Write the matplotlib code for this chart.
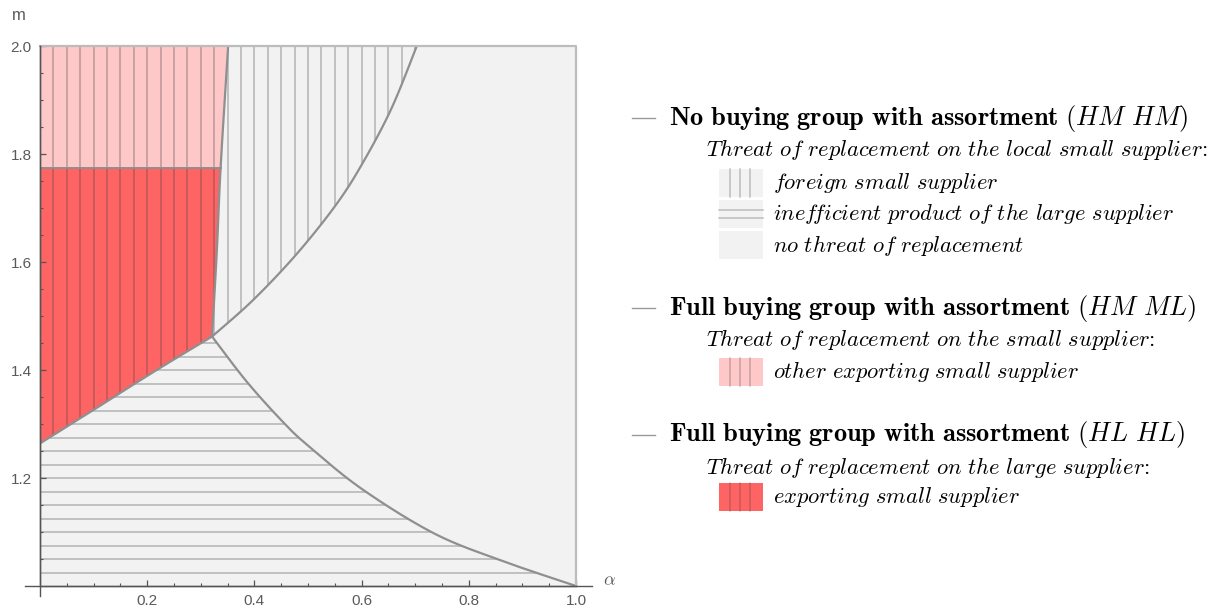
import numpy as np
import matplotlib
matplotlib.use("Agg")
import matplotlib.pyplot as plt
from matplotlib.patches import Polygon, Rectangle
from matplotlib.lines import Line2D

plt.rcParams['mathtext.fontset'] = 'cm'

# boundary curves (alpha, m)
red_bottom_x = [0.0, 0.106, 0.187, 0.249, 0.321]
red_bottom_y = [1.264, 1.330, 1.381, 1.419, 1.462]
split_x = [0.321, 0.330, 0.337, 0.351]          # right edge of the red / pink zone
split_y = [1.462, 1.622, 1.775, 2.0]
upper_x = [0.321, 0.398, 0.479, 0.553, 0.603, 0.656, 0.703]
upper_y = [1.462, 1.530, 1.615, 1.707, 1.785, 1.885, 2.0]
lower_x = [0.321, 0.386, 0.454, 0.50, 0.600, 0.734, 0.858, 1.0]
lower_y = [1.462, 1.378, 1.303, 1.260, 1.180, 1.098, 1.048, 1.0]
m_pink = 1.775                                 # pink above, red below

x_ticks = [0.2, 0.4, 0.6, 0.8, 1.0]
y_ticks = [1.2, 1.4, 1.6, 1.8, 2.0]

GRAY = '#f2f2f2'
PINK = '#ffc8c8'
RED = '#ff6464'
EDGE = '#8f8f8f'


def smooth(xs, ys, n=20):
    '''Catmull-Rom curve through the read points, just for drawing.'''
    p = np.column_stack([xs, ys]).astype(float)
    p = np.vstack([p[0], p, p[-1]])
    out = []
    t = np.linspace(0, 1, n, endpoint=False)[:, None]
    for i in range(1, len(p) - 2):
        p0, p1, p2, p3 = p[i - 1], p[i], p[i + 1], p[i + 2]
        seg = 0.5 * ((2 * p1) + (-p0 + p2) * t +
                     (2 * p0 - 5 * p1 + 4 * p2 - p3) * t ** 2 +
                     (-p0 + 3 * p1 - 3 * p2 + p3) * t ** 3)
        out.append(seg)
    out.append(p[-2][None, :])
    return np.vstack(out)


W, H = 1214, 609
fig = plt.figure(figsize=(W / 100, H / 100), dpi=100)
ax = fig.add_axes([40 / W, 23 / H, 536 / W, 540 / H])
ax.set_xlim(0, 1)
ax.set_ylim(1, 2)
ax.set_facecolor('white')

ax.add_patch(Rectangle((0, 1), 1, 1, facecolor=GRAY, edgecolor='none', zorder=0.5))

red_c = smooth(red_bottom_x, red_bottom_y)
split_c = smooth(split_x, split_y)
upper_c = smooth(upper_x, upper_y)
lower_c = smooth(lower_x, lower_y)

x_mid = np.interp(m_pink, split_y, split_x)
below = split_c[split_c[:, 1] < m_pink]
above = split_c[split_c[:, 1] > m_pink]

red_pts = np.vstack([red_c, below[1:], [[x_mid, m_pink], [0, m_pink]]])
pink_pts = np.vstack([[[0, m_pink], [x_mid, m_pink]], above, [[0, 2.0]]])
vert_pts = np.vstack([split_c, upper_c[::-1]])
horiz_pts = np.vstack([[[0, 1.0], [1.0, 1.0]], lower_c[::-1][1:], red_c[::-1]])

hatch_col = (0.25, 0.25, 0.25, 0.3)
vx = np.arange(0.025, 1.0, 0.025)
hy = np.arange(1.025, 2.0, 0.025)


def region(pts, color, hatch):
    poly = Polygon(pts, closed=True, facecolor=color, edgecolor='none', zorder=1)
    ax.add_patch(poly)
    if hatch == 'v':
        lc = ax.vlines(vx, 1, 2, colors=[hatch_col], linewidth=1.3, zorder=1.2)
    else:
        lc = ax.hlines(hy, 0, 1, colors=[hatch_col], linewidth=1.3, zorder=1.2)
    lc.set_clip_path(poly)


region(red_pts, RED, 'v')
region(pink_pts, PINK, 'v')
region(vert_pts, GRAY, 'v')
region(horiz_pts, GRAY, 'h')

# boundaries
for c in [red_c, split_c, upper_c, lower_c]:
    ax.plot(c[:, 0], c[:, 1], color=EDGE, lw=1.6, zorder=2, solid_capstyle='round')
ax.plot([0, x_mid], [m_pink, m_pink], color=EDGE, lw=1.4, zorder=2)
ax.plot([0, 1, 1], [2, 2, 1], color='#bcbcbc', lw=1.6, zorder=2, clip_on=False)

# axes in the Mathematica style
for s in ['top', 'right']:
    ax.spines[s].set_visible(False)
for s in ['left', 'bottom']:
    ax.spines[s].set_color('#555555')
    ax.spines[s].set_linewidth(1.0)
    ax.spines[s].set_zorder(3)
ax.plot([-0.028, 1.03], [1, 1], color='#555555', lw=1.0, clip_on=False, zorder=3)
ax.plot([0, 0], [0.982, 2.0], color='#555555', lw=1.0, clip_on=False, zorder=3)

ax.set_xticks(x_ticks)
ax.set_yticks(y_ticks)
ax.set_xticklabels(['%.1f' % v for v in x_ticks])
ax.set_yticklabels(['%.1f' % v for v in y_ticks])
ax.set_xticks(np.arange(0.05, 1.0, 0.05), minor=True)
ax.set_yticks(np.arange(1.05, 2.0, 0.05), minor=True)
ax.tick_params(which='both', direction='in', color='#555555', labelcolor='#5a5a5a',
               labelsize=11, top=False, right=False)
ax.tick_params(which='major', length=4, width=0.9, pad=6)
ax.tick_params(which='minor', length=2.5, width=0.8)
for lab in ax.get_xticklabels() + ax.get_yticklabels():
    lab.set_family('Liberation Sans')

fig.text(12 / W, 1 - 15 / H, 'm', color='#5a5a5a', fontsize=12,
         family='Liberation Sans', ha='left', va='center')
fig.text(603 / W, 1 - 580 / H, r'$\alpha$', color='#5a5a5a', fontsize=13,
         ha='left', va='center')


# legend on the right
def fx(px):
    return px / W


def fy(py):
    return 1 - py / H


def swatch(py, color, hatch):
    x0, x1, y0, y1 = 719, 763, py - 14, py + 14
    fig.patches.append(Rectangle((fx(x0), fy(y1)), fx(x1 - x0), (y1 - y0) / H,
                                 transform=fig.transFigure, facecolor=color,
                                 edgecolor='none'))
    if hatch == 'v':
        for xx in [x0 + 11, x0 + 21, x0 + 31]:
            fig.lines.append(Line2D([fx(xx)] * 2, [fy(y0), fy(y1)],
                                    transform=fig.transFigure, color=hatch_col, lw=1.1))
    elif hatch == 'h':
        for yy in [py - 4, py + 4]:
            fig.lines.append(Line2D([fx(x0), fx(x1)], [fy(yy)] * 2,
                                    transform=fig.transFigure, color=hatch_col, lw=1.1))


def heading(py, words, tag):
    fig.lines.append(Line2D([fx(632), fx(655)], [fy(py)] * 2,
                            transform=fig.transFigure, color='#999999', lw=1.0))
    fig.text(fx(669), fy(py), r'$\mathbf{%s}\ (%s)$' % (words.replace(' ', r'\ '), tag),
             fontsize=19, ha='left', va='center')


def italic(px, py, s, colon=False):
    s = s.replace(' ', r'\ ').replace('ff', r'f\!f')
    fig.text(fx(px), fy(py), r'$\mathit{%s}$' % s + (':' if colon else ''),
             fontsize=16.2, ha='left', va='center', family='cmr10')


heading(118, 'No buying group with assortment', r'HM\ HM')
italic(706, 150, 'Threat of replacement on the local small supplier', True)
swatch(183, GRAY, 'v')
italic(773, 183, 'foreign small supplier')
swatch(214, GRAY, 'h')
italic(773, 214, 'inefficient product of the large supplier')
swatch(245, GRAY, None)
italic(773, 245, 'no threat of replacement')

heading(308, 'Full buying group with assortment', r'HM\ ML')
italic(706, 340, 'Threat of replacement on the small supplier', True)
swatch(372, PINK, 'v')
italic(773, 372, 'other exporting small supplier')

heading(435, 'Full buying group with assortment', r'HL\ HL')
italic(706, 467, 'Threat of replacement on the large supplier', True)
swatch(497, RED, 'v')
italic(773, 497, 'exporting small supplier')

fig.savefig('out.png', dpi=100)
